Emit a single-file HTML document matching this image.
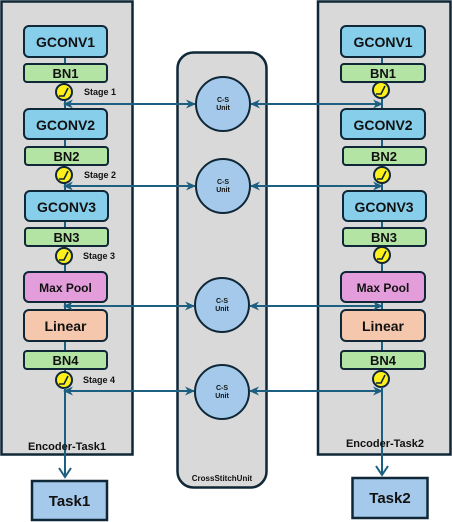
<!DOCTYPE html>
<html><head><meta charset="utf-8"><style>
html,body{margin:0;padding:0;background:#fff;}
svg{display:block;}
text{font-family:"Liberation Sans","DejaVu Sans",sans-serif;font-weight:bold;fill:#111;}
</style></head><body>
<svg width="452" height="522" viewBox="0 0 452 522" xmlns="http://www.w3.org/2000/svg">
<defs>
<marker id="ah" markerWidth="10" markerHeight="10" refX="9" refY="5" orient="auto" markerUnits="userSpaceOnUse">
<path d="M0,0.5 L10,5 L0,9.5 L3,5 Z" fill="#1d5f80"/>
</marker>
<marker id="va" markerWidth="14" markerHeight="12" refX="7" refY="10" orient="0" markerUnits="userSpaceOnUse">
<path d="M1,1 L7,10 L13,1" fill="none" stroke="#1d5f80" stroke-width="2"/>
</marker>
</defs>
<!-- panels -->
<rect x="1.5" y="1.5" width="131" height="453" fill="#d9d9d9" stroke="#0f2737" stroke-width="2.5"/>
<rect x="318" y="1.5" width="132.5" height="453" fill="#d9d9d9" stroke="#0f2737" stroke-width="2.5"/>
<rect x="177.5" y="52.5" width="89" height="435" rx="16" fill="#d9d9d9" stroke="#0f2737" stroke-width="2.5"/>

<g id="enc1">
<line x1="65" y1="57" x2="65" y2="380" stroke="#1d5f80" stroke-width="2"/>
<rect x="24" y="26" width="83" height="31" rx="5" fill="#87ceeb" stroke="#0f2737" stroke-width="2"/>
<text x="65.5" y="47" font-size="14" text-anchor="middle">GCONV1</text>
<rect x="24" y="64" width="83" height="18" rx="3" fill="#b3e4a4" stroke="#0f2737" stroke-width="2"/>
<text x="65.5" y="78" font-size="13" text-anchor="middle">BN1</text>
<rect x="24" y="109" width="83" height="30" rx="5" fill="#87ceeb" stroke="#0f2737" stroke-width="2"/>
<text x="65.5" y="130" font-size="14" text-anchor="middle">GCONV2</text>
<rect x="25" y="147" width="83" height="18" rx="3" fill="#b3e4a4" stroke="#0f2737" stroke-width="2"/>
<text x="66.5" y="161" font-size="13" text-anchor="middle">BN2</text>
<rect x="25" y="191" width="83" height="30" rx="5" fill="#87ceeb" stroke="#0f2737" stroke-width="2"/>
<text x="66.5" y="212" font-size="14" text-anchor="middle">GCONV3</text>
<rect x="25" y="228" width="83" height="18" rx="3" fill="#b3e4a4" stroke="#0f2737" stroke-width="2"/>
<text x="66.5" y="242" font-size="13" text-anchor="middle">BN3</text>
<rect x="24" y="272" width="83" height="30" rx="5" fill="#e49ddb" stroke="#0f2737" stroke-width="2"/>
<text x="65.5" y="292" font-size="12" text-anchor="middle">Max Pool</text>
<rect x="24" y="310" width="83" height="31" rx="5" fill="#f5c7ad" stroke="#0f2737" stroke-width="2"/>
<text x="65.5" y="331" font-size="14" text-anchor="middle">Linear</text>
<rect x="24" y="351" width="83" height="18" rx="3" fill="#b3e4a4" stroke="#0f2737" stroke-width="2"/>
<text x="65.5" y="365" font-size="13" text-anchor="middle">BN4</text>
</g>
<g id="enc2">
<line x1="382" y1="57" x2="382" y2="380" stroke="#1d5f80" stroke-width="2"/>
<rect x="341" y="26" width="84" height="31" rx="5" fill="#87ceeb" stroke="#0f2737" stroke-width="2"/>
<text x="383" y="47" font-size="14" text-anchor="middle">GCONV1</text>
<rect x="341" y="64" width="84" height="18" rx="3" fill="#b3e4a4" stroke="#0f2737" stroke-width="2"/>
<text x="383" y="78" font-size="13" text-anchor="middle">BN1</text>
<rect x="341" y="109" width="84" height="30" rx="5" fill="#87ceeb" stroke="#0f2737" stroke-width="2"/>
<text x="383" y="130" font-size="14" text-anchor="middle">GCONV2</text>
<rect x="343" y="147" width="83" height="18" rx="3" fill="#b3e4a4" stroke="#0f2737" stroke-width="2"/>
<text x="384" y="161" font-size="13" text-anchor="middle">BN2</text>
<rect x="343" y="191" width="83" height="30" rx="5" fill="#87ceeb" stroke="#0f2737" stroke-width="2"/>
<text x="384" y="212" font-size="14" text-anchor="middle">GCONV3</text>
<rect x="343" y="228" width="83" height="18" rx="3" fill="#b3e4a4" stroke="#0f2737" stroke-width="2"/>
<text x="384" y="242" font-size="13" text-anchor="middle">BN3</text>
<rect x="341" y="272" width="84" height="30" rx="5" fill="#e49ddb" stroke="#0f2737" stroke-width="2"/>
<text x="383" y="292" font-size="12" text-anchor="middle">Max Pool</text>
<rect x="341" y="310" width="84" height="31" rx="5" fill="#f5c7ad" stroke="#0f2737" stroke-width="2"/>
<text x="383" y="331" font-size="14" text-anchor="middle">Linear</text>
<rect x="341" y="351" width="84" height="18" rx="3" fill="#b3e4a4" stroke="#0f2737" stroke-width="2"/>
<text x="383" y="365" font-size="13" text-anchor="middle">BN4</text>
</g>

<!-- gauges -->
<g stroke="#0f2737" stroke-width="2" fill="#ffef1a">
<circle cx="64" cy="92" r="8"/><circle cx="64" cy="175" r="8"/><circle cx="64" cy="256" r="8"/><circle cx="64" cy="380" r="8"/>
<circle cx="381" cy="90" r="8"/><circle cx="382" cy="175" r="8"/><circle cx="382" cy="255" r="8"/><circle cx="381" cy="379" r="8"/>
</g>
<g stroke="#0f2737" stroke-width="1.6" fill="none">
<path d="M59,96 L64,96 L68,88"/><path d="M59,179 L64,179 L68,171"/><path d="M59,260 L64,260 L68,252"/><path d="M59,384 L64,384 L68,376"/>
<path d="M376,94 L381,94 L385,86"/><path d="M377,179 L382,179 L386,171"/><path d="M377,259 L382,259 L386,251"/><path d="M376,383 L381,383 L385,375"/>
</g>
<g font-size="9">
<text x="84" y="95">Stage 1</text><text x="84" y="178">Stage 2</text><text x="83" y="259">Stage 3</text><text x="83" y="383">Stage 4</text>
</g>

<!-- CS units -->
<g fill="#a4c9ea" stroke="#0f2737" stroke-width="2">
<circle cx="223" cy="104" r="27"/><circle cx="223" cy="186" r="27"/><circle cx="222" cy="305" r="27"/><circle cx="222" cy="392" r="27"/>
</g>
<g font-size="7" text-anchor="middle">
<text x="223" y="102">C-S</text><text x="223" y="110">Unit</text>
<text x="223" y="184">C-S</text><text x="223" y="192">Unit</text>
<text x="222" y="303">C-S</text><text x="222" y="311">Unit</text>
<text x="222" y="390">C-S</text><text x="222" y="398">Unit</text>
</g>

<!-- connectors -->
<g stroke="#1d5f80" stroke-width="2" fill="none">
<line x1="70" y1="104" x2="195" y2="104" marker-end="url(#ah)"/>
<line x1="195" y1="104" x2="64" y2="104" marker-end="url(#ah)"/>
<line x1="70" y1="186" x2="195" y2="186" marker-end="url(#ah)"/>
<line x1="195" y1="186" x2="64" y2="186" marker-end="url(#ah)"/>
<line x1="70" y1="306" x2="194" y2="306" marker-end="url(#ah)"/>
<line x1="194" y1="306" x2="64" y2="306" marker-end="url(#ah)"/>
<line x1="70" y1="391" x2="194" y2="391" marker-end="url(#ah)"/>
<line x1="194" y1="391" x2="64" y2="391" marker-end="url(#ah)"/>

<line x1="380" y1="104" x2="251" y2="104" marker-end="url(#ah)"/>
<line x1="251" y1="104" x2="382" y2="104" marker-end="url(#ah)"/>
<line x1="380" y1="186" x2="251" y2="186" marker-end="url(#ah)"/>
<line x1="251" y1="186" x2="382" y2="186" marker-end="url(#ah)"/>
<line x1="380" y1="306" x2="250" y2="306" marker-end="url(#ah)"/>
<line x1="250" y1="306" x2="382" y2="306" marker-end="url(#ah)"/>
<line x1="380" y1="391" x2="250" y2="391" marker-end="url(#ah)"/>
<line x1="250" y1="391" x2="382" y2="391" marker-end="url(#ah)"/>

<line x1="65" y1="388" x2="65" y2="477" marker-end="url(#va)"/>
<line x1="382" y1="387" x2="382" y2="475" marker-end="url(#va)"/>
</g>

<text x="67" y="450" font-size="11" text-anchor="middle">Encoder-Task1</text>
<text x="385" y="447" font-size="11" text-anchor="middle">Encoder-Task2</text>
<text x="222" y="481" font-size="8" text-anchor="middle">CrossStitchUnit</text>

<rect x="32" y="481" width="75" height="39" fill="#a4c9ea" stroke="#0f2737" stroke-width="2.5"/>
<text x="69.5" y="506" font-size="15" text-anchor="middle">Task1</text>
<rect x="352.5" y="478" width="75" height="40" fill="#a4c9ea" stroke="#0f2737" stroke-width="2.5"/>
<text x="390" y="503" font-size="15" text-anchor="middle">Task2</text>
</svg>
</body></html>
